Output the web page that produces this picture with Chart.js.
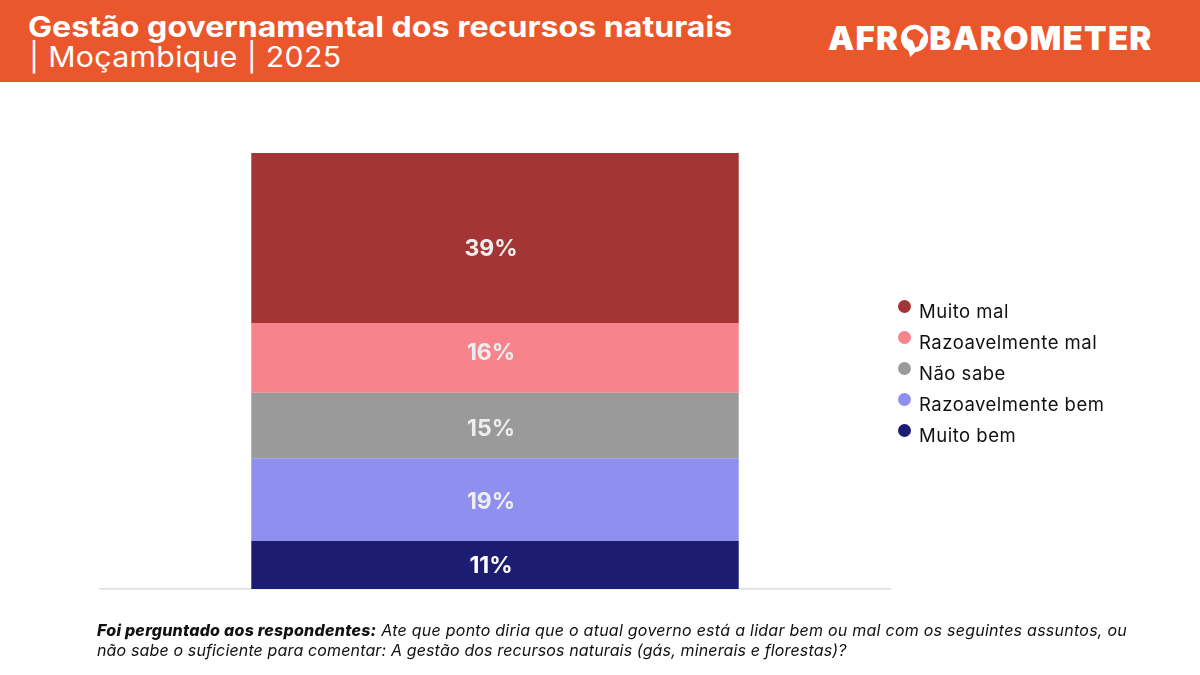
<!DOCTYPE html>
<html lang="pt">
<head>
<meta charset="utf-8">
<title>Gestão governamental dos recursos naturais</title>
<script src="https://cdn.jsdelivr.net/npm/chart.js@4"></script>
<style>
  html, body { margin: 0; padding: 0; background: #fff; }
  body { width: 1200px; height: 675px; position: relative; overflow: hidden; font-family: Inter, "Noto Sans", sans-serif; color: #111; }
  #header { position: absolute; left: 0; top: 0; width: 1200px; height: 82px; background: #EB572C; color: #fff; }
  #title1 { position: absolute; left: 28px; top: 9px; font-size: 28.5px; font-weight: 700; line-height: 36px; white-space: nowrap; transform: scaleX(1.127); transform-origin: left; }
  #title2 { position: absolute; left: 29px; top: 39px; font-size: 28px; font-weight: 400; line-height: 36px; white-space: nowrap; letter-spacing: .3px; transform: scaleX(1.08); transform-origin: left; }
  #logo { position: absolute; left: 828px; top: 18px; height: 40px; display: flex; align-items: center; font-size: 33px; font-weight: 900; line-height: 40px; white-space: nowrap; letter-spacing: 1.2px; }
  #logo svg { width: 29px; height: 36px; margin: 4px 0 0 1px; }
  #chart-wrap { position: absolute; left: 0; top: 0; width: 1200px; height: 675px; }
  #legend { position: absolute; left: 898px; top: 296px; font-size: 18.5px; line-height: 31px; letter-spacing: .5px; }
  #legend div { position: relative; height: 31px; padding-left: 21px; white-space: nowrap; }
  #legend i { position: absolute; left: 0; top: 4px; width: 13px; height: 13px; border-radius: 50%; }
  #note { position: absolute; left: 97px; top: 620px; width: 1060px; font-size: 16px; line-height: 20px; font-style: italic; color: #111; white-space: nowrap; letter-spacing: .25px; }
  #note b { font-weight: 800; }
  #note span { letter-spacing: .14px; }
</style>
</head>
<body>
<div id="chart-wrap"><canvas id="myChart" width="1200" height="675"></canvas></div>
<div id="header">
  <div id="title1">Gestão governamental dos recursos naturais</div>
  <div id="title2">| Moçambique | 2025</div>
  <div id="logo">AFR<svg viewBox="0 0 34 40"><circle cx="17" cy="18" r="16" fill="#fff"/><path d="M9 30 L12 40 L20 32 Z" fill="#fff"/><path d="M11 9 L18 7 L23 10 L28 14 L24 20 L22 27 L18 29 L15 21 L9 18 L8 13 Z" fill="#EB572C"/></svg>BAROMETER</div>
</div>
<div id="legend"></div>
<div id="note"><b>Foi perguntado aos respondentes:</b> Ate que ponto diria que o atual governo está a lidar bem ou mal com os seguintes assuntos, ou<br><span>não sabe o suficiente para comentar: A gestão dos recursos naturais (gás, minerais e florestas)?</span></div>

<script>
  var categories = ["Moçambique"];
  // bottom to top, same order as the stack
  var seriesNames = ["Muito bem", "Razoavelmente bem", "Não sabe", "Razoavelmente mal", "Muito mal"];
  var seriesValues = [11, 19, 15, 16, 39];
  var seriesColors = ["#1C1C73", "#8F8FEF", "#9A9A9A", "#F7838C", "#A43535"];
  var labelColors = ["#ffffff", "#eeeeee", "#eeeeee", "#eeeeee", "#eeeeee"];
  // the labels sit a bit off centre in the original
  var labelNudgeY = [1, 2, 4, -5, 11];

  // legend goes top to bottom
  for (var i = seriesNames.length - 1; i >= 0; i--) {
    var row = document.createElement("div");
    row.innerHTML = '<i style="background:' + seriesColors[i] + '"></i>' + seriesNames[i];
    document.getElementById("legend").appendChild(row);
  }

  // percent labels in the middle of each segment
  var barLabels = {
    id: "barLabels",
    afterDatasetsDraw: function(chart){
      var ctx = chart.ctx;
      ctx.save();
      ctx.font = "700 23px Inter, 'Noto Sans', sans-serif";
      ctx.textAlign = "center";
      ctx.textBaseline = "middle";
      chart.data.datasets.forEach(function(ds, i){
        var bar = chart.getDatasetMeta(i).data[0];
        ctx.fillStyle = labelColors[i];
        ctx.fillText(ds.data[0] + "%", bar.x - 4, (bar.y + bar.base) / 2 + labelNudgeY[i]);
      });
      ctx.restore();
    }
  };

  var ctx = document.getElementById("myChart").getContext("2d");
  var myChart = new Chart(ctx, {
    type: "bar",
    data: {
      labels: categories,
      datasets: seriesNames.map(function(name, i){
        return {
          label: name,
          data: [seriesValues[i]],
          backgroundColor: seriesColors[i],
          borderWidth: 0,
          categoryPercentage: 1,
          barPercentage: 0.617
        };
      })
    },
    options: {
      responsive: false,
      animation: false,
      layout: { padding: { left: 100, right: 310, top: 153, bottom: 78 } },
      plugins: { legend: { display: false }, tooltip: { enabled: false } },
      scales: {
        x: {
          stacked: true,
          grid: { display: false },
          border: { display: true, color: "#DDDDDD", width: 1.5 },
          ticks: { display: false }
        },
        y: { stacked: true, display: false, min: 0, max: 100 }
      }
    },
    plugins: [barLabels]
  });
</script>
</body>
</html>
